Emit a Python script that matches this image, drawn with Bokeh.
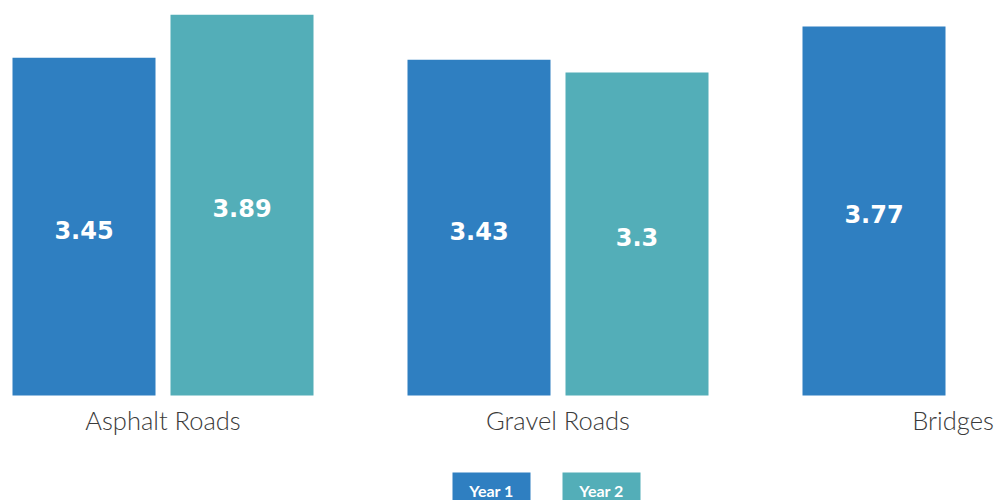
import math
from bokeh.plotting import figure
from bokeh.models import Range1d, ColumnDataSource
from bokeh.core.properties import value
from bokeh.embed import file_html
from bokeh.resources import INLINE

categories = ["Asphalt Roads", "Gravel Roads", "Bridges"]
year1 = [3.45, 3.43, 3.77]
year2 = [3.89, 3.3, float("nan")]
series_names = ["Year 1", "Year 2"]
colors = ["#2f7fc1", "#53aeb8"]

W, H = 1003, 500
# layout in pixels (relative to figure)
group_px = 395.0
first_center_px = 162.5
zero_px = 395.0
unit_px = 97.9

x0 = -first_center_px / group_px
x1 = (W - first_center_px) / group_px
y1 = zero_px / unit_px
y0 = -(H - zero_px) / unit_px

p = figure(width=W, height=H, output_backend="svg", toolbar_location=None,
           x_range=Range1d(x0, x1), y_range=Range1d(y0, y1),
           min_border=0, outline_line_color=None)
p.axis.visible = False
p.grid.visible = False
p.background_fill_color = "white"
p.border_fill_color = "white"

xs = list(range(len(categories)))
off = 79.0 / group_px
bw = 143.0 / group_px

for vals, sign, col in [(year1, -1, colors[0]), (year2, 1, colors[1])]:
    xx = [x + sign * off for x in xs]
    keep = [i for i, v in enumerate(vals) if not math.isnan(v)]
    src = ColumnDataSource(dict(
        x=[xx[i] for i in keep],
        top=[vals[i] for i in keep],
        mid=[vals[i] / 2 for i in keep],
        lab=[f"{vals[i]:g}" for i in keep],
    ))
    p.vbar(x="x", top="top", bottom=0, width=bw, source=src,
           fill_color=col, line_color=None)
    p.text(x="x", y="mid", text="lab", source=src, y_offset=3,
           text_color="white", text_font=value("DejaVu Sans"),
           text_font_style="bold", text_font_size="24px",
           text_align="center", text_baseline="middle")

# category labels
cat_y = -24.0 / unit_px
p.text(x=xs, y=[cat_y] * len(xs), text=categories,
       text_color="#3a3a3a", text_font=value("'Lato Light', Lato"),
       text_font_size="25.5px", text_align="center", text_baseline="middle")

# legend boxes
leg_cx_px = [491.0, 601.0]
leg_w_px = [78, 78]
leg_cy_px = 487.0
for name, col, cx, w in zip(series_names, colors, leg_cx_px, leg_w_px):
    lx = (cx - first_center_px) / group_px
    ly = (zero_px - leg_cy_px) / unit_px
    p.rect(x=[lx], y=[ly], width=w, height=30, width_units="screen",
           height_units="screen", fill_color=col, line_color=None)
    p.text(x=[lx], y=[(zero_px - 489.5) / unit_px], text=[name], text_color="white",
           text_font=value("Lato"), text_font_style="bold",
           text_font_size="16px", text_align="center", text_baseline="middle")

open("out.html", "w").write(file_html(p, INLINE))
